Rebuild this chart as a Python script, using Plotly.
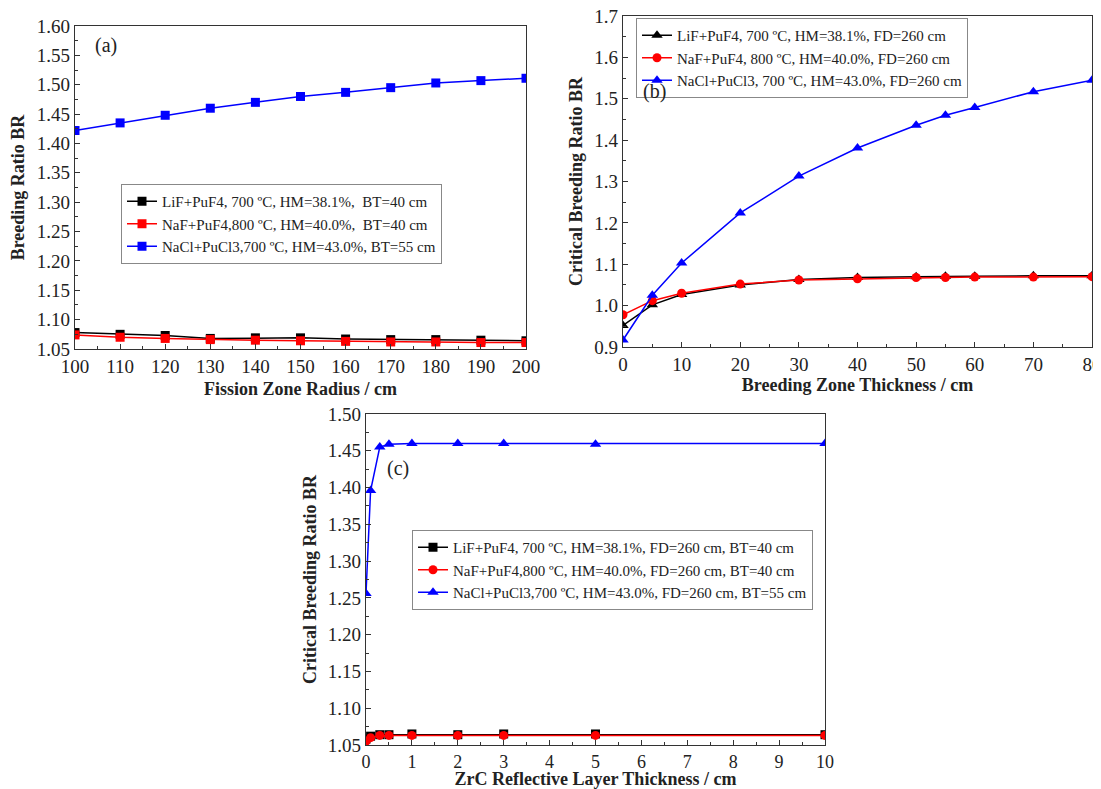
import plotly.graph_objects as go

# ---------- data ----------
# Panel (a)
radius = [100, 110, 120, 130, 140, 150, 160, 170, 180, 190, 200]
a_lif = [1.078, 1.075, 1.073, 1.068, 1.069, 1.069, 1.067, 1.066, 1.066, 1.065, 1.064]
a_naf = [1.074, 1.070, 1.068, 1.066, 1.065, 1.064, 1.063, 1.062, 1.062, 1.061, 1.061]
a_nacl = [1.422, 1.435, 1.448, 1.460, 1.470, 1.480, 1.487, 1.495, 1.503, 1.507, 1.511]
a_names = ["LiF+PuF4, 700 ºC, HM=38.1%,  BT=40 cm",
           "NaF+PuF4,800 ºC, HM=40.0%,  BT=40 cm",
           "NaCl+PuCl3,700 ºC, HM=43.0%, BT=55 cm"]

# Panel (b)
thick = [0, 5, 10, 20, 30, 40, 50, 55, 60, 70, 80]
b_lif = [0.952, 1.002, 1.027, 1.050, 1.063, 1.068, 1.070, 1.071, 1.071, 1.072, 1.072]
b_naf = [0.978, 1.012, 1.030, 1.052, 1.062, 1.065, 1.068, 1.068, 1.069, 1.069, 1.070]
b_nacl = [0.917, 1.025, 1.103, 1.224, 1.313, 1.381, 1.436, 1.460, 1.479, 1.517, 1.545]
b_names = ["LiF+PuF4, 700 ºC, HM=38.1%, FD=260 cm",
           "NaF+PuF4, 800 ºC, HM=40.0%, FD=260 cm",
           "NaCl+PuCl3, 700 ºC, HM=43.0%, FD=260 cm"]

# Panel (c)
zrc = [0, 0.1, 0.3, 0.5, 1, 2, 3, 5, 10]
c_lif = [1.058, 1.062, 1.064, 1.064, 1.065, 1.064, 1.065, 1.065, 1.064]
c_naf = [1.055, 1.060, 1.063, 1.063, 1.063, 1.063, 1.063, 1.063, 1.063]
c_nacl = [1.256, 1.396, 1.455, 1.459, 1.460, 1.460, 1.460, 1.459, 1.460]
c_names = ["LiF+PuF4, 700 ºC, HM=38.1%, FD=260 cm, BT=40 cm",
           "NaF+PuF4,800 ºC, HM=40.0%, FD=260 cm, BT=40 cm",
           "NaCl+PuCl3,700 ºC, HM=43.0%, FD=260 cm, BT=55 cm"]

BLACK, RED, BLUE = "#000000", "#ff0000", "#0000ff"
FONT = "Liberation Serif"

fig = go.Figure()

def add(x, y, name, color, symbol, xa, ya, legend, size=8):
    fig.add_trace(go.Scatter(
        x=x, y=y, name=name, mode="lines+markers",
        line=dict(color=color, width=1.5),
        marker=dict(color=color, symbol=symbol, size=size),
        xaxis=xa, yaxis=ya, legend=legend))

add(radius, a_lif, a_names[0], BLACK, "square", "x", "y", "legend", 9)
add(radius, a_naf, a_names[1], RED, "square", "x", "y", "legend", 9)
add(radius, a_nacl, a_names[2], BLUE, "square", "x", "y", "legend", 9)

add(thick, b_lif, b_names[0], BLACK, "triangle-up", "x2", "y2", "legend2", 10)
add(thick, b_naf, b_names[1], RED, "circle", "x2", "y2", "legend2", 9)
add(thick, b_nacl, b_names[2], BLUE, "triangle-up", "x2", "y2", "legend2", 10)

add(zrc, c_lif, c_names[0], BLACK, "square", "x3", "y3", "legend3", 9)
add(zrc, c_naf, c_names[1], RED, "circle", "x3", "y3", "legend3", 9)
add(zrc, c_nacl, c_names[2], BLUE, "triangle-up", "x3", "y3", "legend3", 10)

# page has an 8 px body margin: figure starts at page pixel (8, 8)
OFF = 8
W, H = 1101 - OFF, 789 - OFF

def px(x):
    return (x - OFF) / W

def py(y):
    return 1 - (y - OFF) / H

def dx(a, b):
    return [px(a), px(b)]

def dy(top, bottom):
    return [py(bottom), py(top)]

tickfont = dict(family=FONT, size=19, color="#222")
titlefont = dict(family=FONT, size=18, color="#222", weight="bold")

def axis(domain, rng, dtick, minor_dtick, title, anchor, standoff, tf=tickfont):
    return dict(
        domain=domain, range=rng, dtick=dtick, tick0=rng[0],
        showgrid=False, zeroline=False, automargin=False,
        ticklabeloverflow="allow",
        showline=True, linecolor="#333", linewidth=1.3, mirror=True,
        ticks="inside", ticklen=5, tickwidth=1.3, tickcolor="#333",
        minor=dict(ticks="inside", ticklen=3, dtick=minor_dtick, tickcolor="#333", tickwidth=1),
        tickfont=tf,
        title=dict(text=title, font=titlefont, standoff=standoff),
        anchor=anchor,
    )

layout = dict(
    width=W, height=H,
    margin=dict(l=0, r=0, t=0, b=0),
    paper_bgcolor="white", plot_bgcolor="white",
    showlegend=True,
    xaxis=axis(dx(75, 526), [100, 200], 10, 5, "Fission Zone Radius / cm", "y", 6),
    yaxis=axis(dy(26, 349), [1.05, 1.60], 0.05, 0.025, "Breeding Ratio BR", "x", 8),
    xaxis2=axis(dx(623, 1092), [0, 80], 10, 5, "Breeding Zone Thickness / cm", "y2", 1),
    yaxis2=axis(dy(16, 347), [0.9, 1.7], 0.1, 0.05, "Critical Breeding Ratio BR", "x2", 6),
    xaxis3=axis(dx(366, 825), [0, 10], 1, 0.5, "ZrC Reflective Layer Thickness / cm", "y3", 3,
                dict(family=FONT, size=18, color="#222")),
    yaxis3=axis(dy(414, 745), [1.05, 1.50], 0.05, 0.025, "Critical Breeding Ratio BR", "x3", 6),
)

yfmt = {"yaxis": ".2f", "yaxis2": ".1f", "yaxis3": ".2f"}
for k, f in yfmt.items():
    layout[k]["tickformat"] = f

legfont = dict(family=FONT, size=15, color="#222")
common_leg = dict(font=legfont, bgcolor="white", bordercolor="#888", borderwidth=1,
                  xanchor="left", yanchor="top", tracegroupgap=0, itemwidth=30,
                  xref="paper", yref="paper")
layout["legend"] = dict(x=px(121), y=py(184), **common_leg)
layout["legend2"] = dict(x=px(636), y=py(18), **common_leg)
layout["legend3"] = dict(x=px(412), y=py(530), **common_leg)

fig.update_layout(**layout)

labfont = dict(family=FONT, size=20, color="#222")
for txt, cx, cy in [("(a)", 106, 45), ("(b)", 654, 91), ("(c)", 398, 468)]:
    fig.add_annotation(text=txt, xref="paper", yref="paper", x=px(cx), y=py(cy),
                       showarrow=False, font=labfont, xanchor="center", yanchor="middle")

fig.write_html("out.html")
